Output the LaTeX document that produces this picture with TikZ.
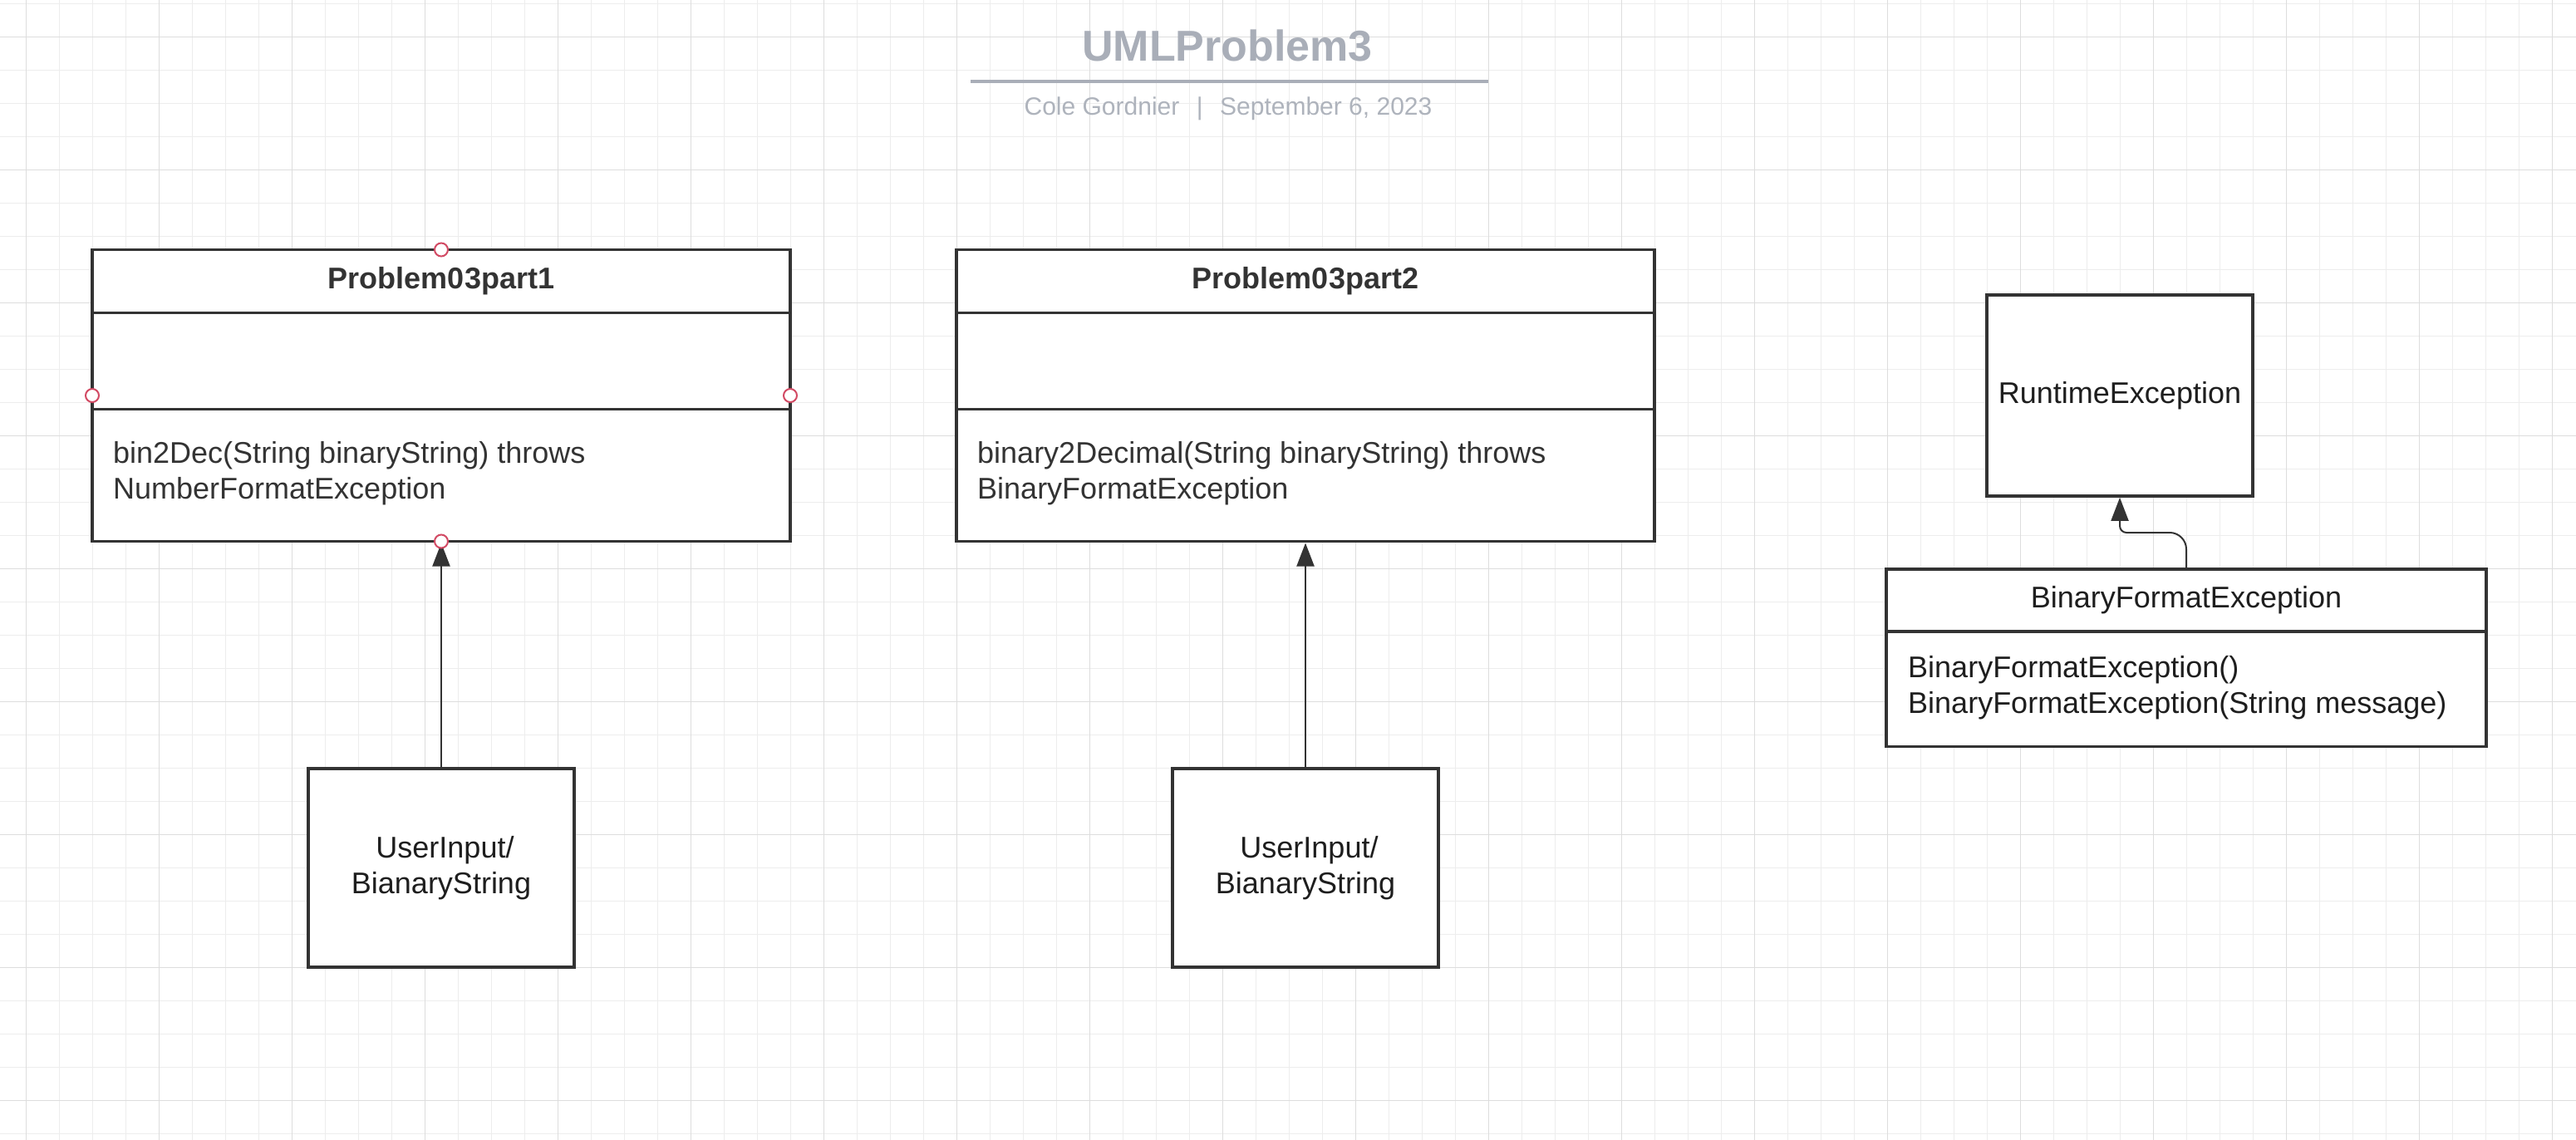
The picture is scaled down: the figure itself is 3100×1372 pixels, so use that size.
\documentclass[tikz,border=0pt]{standalone}
\usepackage{fontspec}
\setmainfont{Liberation Sans}
\usetikzlibrary{arrows.meta,calc}
\definecolor{boxc}{HTML}{333333}
\definecolor{txtc}{HTML}{333333}
\definecolor{blk}{HTML}{1E1E1E}
\definecolor{titlec}{HTML}{A9AEB8}
\definecolor{subc}{HTML}{AEB3BC}
\definecolor{minorc}{HTML}{EDEDED}
\definecolor{majorc}{HTML}{DDDDDD}
\definecolor{ptred}{HTML}{D24A64}
\begin{document}
\begin{tikzpicture}[x=1pt,y=1pt,
  minorgrid/.style={draw=minorc,line width=1.2pt},
  majorgrid/.style={draw=majorc,line width=1.4pt},
  box/.style={draw=boxc,line width=3.5pt,fill=white,rectangle,inner sep=0pt,outer sep=0pt},
  divider/.style={draw=boxc,line width=3.5pt},
  headtxt/.style={font=\fontsize{36}{43}\selectfont\bfseries,text=txtc,inner sep=0pt,anchor=base},
  methtxt/.style={font=\fontsize{36}{43}\selectfont,text=txtc,inner sep=0pt,anchor=base west},
  plaintxt/.style={font=\fontsize{36}{43}\selectfont,text=blk,inner sep=0pt},
  conn/.style={draw=boxc,line width=2pt,-{Triangle[length=28pt,width=21pt]},shorten >=2pt},
  cpt/.style={circle,draw=ptred,fill=white,line width=2pt,minimum size=16pt,inner sep=0pt}
]
% page
\fill[white] (0,0) rectangle (3100,-1372);
\useasboundingbox (0,0) rectangle (3100,-1372);
% grid
\foreach \i in {0,...,76} {\draw[minorgrid] ({31.5+40*\i},0) -- ({31.5+40*\i},-1372);}
\foreach \j in {0,...,34} {\draw[minorgrid] (0,{-4.3-40*\j}) -- (3100,{-4.3-40*\j});}
\foreach \i in {0,...,19} {\draw[majorgrid] ({31.5+160*\i},0) -- ({31.5+160*\i},-1372);}
\foreach \j in {0,...,8} {\draw[majorgrid] (0,{-44.3-160*\j}) -- (3100,{-44.3-160*\j});}

% title block
\node[font=\fontsize{52}{62}\selectfont\bfseries,text=titlec,anchor=base,inner sep=0pt] (title) at (1477,-74) {UMLProblem3};
\coordinate (ul1) at (1168,-98);
\coordinate (ul2) at (1791,-98);
\draw[draw=titlec,line width=4pt] (ul1) -- (ul2);
\node[font=\fontsize{30}{36}\selectfont,text=subc,anchor=base,inner sep=0pt] (sub) at (1478,-139) {Cole Gordnier\hspace{20.5pt}|\hspace{20.5pt}September 6, 2023};

% class Problem03part1
\node[box,minimum width=840pt,minimum height=351pt] (p1) at (531,-476) {};
\draw[divider] ($(p1.north west)+(0,-76.2)$) -- ($(p1.north east)+(0,-76.2)$);
\draw[divider] ($(p1.north west)+(0,-192)$) -- ($(p1.north east)+(0,-192)$);
\node[headtxt] (p1h) at ($(p1.north)+(0,-46.5)$) {Problem03part1};
\node[methtxt] (p1m1) at ($(p1.west)+(25,-81)$) {bin2Dec(String binaryString) throws};
\node[methtxt] (p1m2) at ($(p1.west)+(25,-124)$) {NumberFormatException};

% class Problem03part2
\node[box,minimum width=840pt,minimum height=351pt] (p2) at (1571,-476) {};
\draw[divider] ($(p2.north west)+(0,-76.2)$) -- ($(p2.north east)+(0,-76.2)$);
\draw[divider] ($(p2.north west)+(0,-192)$) -- ($(p2.north east)+(0,-192)$);
\node[headtxt] (p2h) at ($(p2.north)+(0,-46.5)$) {Problem03part2};
\node[methtxt] (p2m1) at ($(p2.west)+(25,-81.5)$) {binary2Decimal(String binaryString) throws};
\node[methtxt] (p2m2) at ($(p2.west)+(25,-124.5)$) {BinaryFormatException};

% user input boxes
\node[box,plaintxt,minimum width=320pt,minimum height=239pt,align=center] (u1) at (531,-1044.5) {\hspace*{9pt}UserInput/\\BianaryString};
\node[box,plaintxt,minimum width=320pt,minimum height=239pt,align=center] (u2) at (1571,-1044.5) {\hspace*{9pt}UserInput/\\BianaryString};

% RuntimeException
\node[box,plaintxt,minimum width=320pt,minimum height=241.7pt] (re) at (2551,-476) {RuntimeException};

% BinaryFormatException
\node[box,minimum width=722pt,minimum height=213.7pt] (bfe) at (2631,-791.85) {};
\draw[divider] ($(bfe.north west)+(0,-75)$) -- ($(bfe.north east)+(0,-75)$);
\node[plaintxt,anchor=base] (bfeh) at ($(bfe.north)+(0,-46)$) {BinaryFormatException};
\node[plaintxt,anchor=base west] (bfem1) at ($(bfe.west)+(26,-23.15)$) {BinaryFormatException()};
\node[plaintxt,anchor=base west] (bfem2) at ($(bfe.west)+(26,-66.15)$) {BinaryFormatException(String message)};

% connectors
\draw[conn] (u1.north) -- (p1.south);
\draw[conn] (u2.north) -- (p2.south);
\draw[conn] (bfe.north) -- ++(0,24) arc[start angle=0,end angle=90,radius=20] -- ++(-52,0) arc[start angle=270,end angle=180,radius=8] -- (re.south);

% connection points on Problem03part1
\foreach \a in {north,south,east,west} {\node[cpt] (cp\a) at (p1.\a) {};}
\end{tikzpicture}
\end{document}
